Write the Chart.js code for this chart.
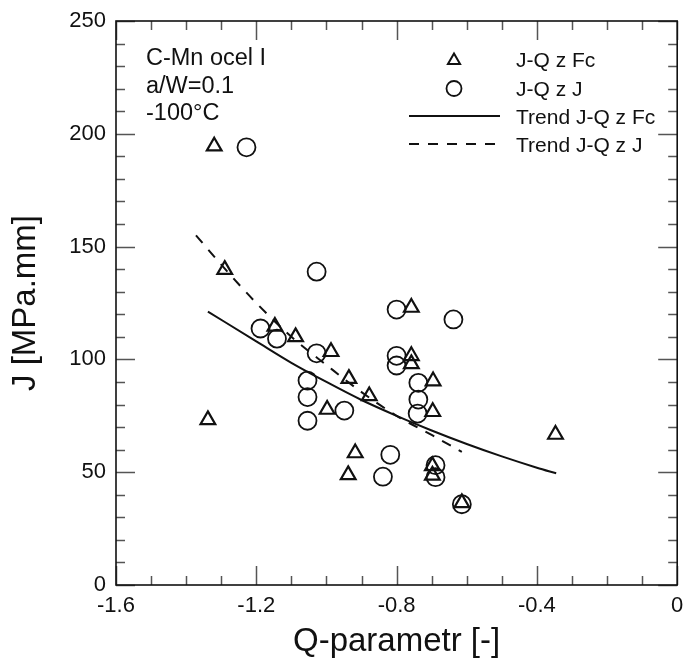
<!DOCTYPE html>
<html>
<head>
<meta charset="utf-8">
<script src="https://cdn.jsdelivr.net/npm/chart.js@4.4.1/dist/chart.umd.min.js"></script>
<style>
  html, body { margin: 0; padding: 0; background: #fff; }
</style>
</head>
<body>
<canvas id="jqChart" width="688" height="662"></canvas>
<script>
// J-Q z Fc (triangles)
const qFc = [-1.320, -1.290, -1.338, -1.147, -1.088, -0.987, -0.936, -0.878, -0.998, -0.918,
             -0.938, -0.758, -0.758, -0.758, -0.696, -0.697, -0.698, -0.698, -0.614, -0.347];
const jFc = [194.5, 139.8, 73.2, 114.6, 110.0, 103.4, 91.5, 83.8, 77.8, 58.5,
             48.8, 123.0, 101.6, 98.0, 90.4, 76.8, 52.8, 48.6, 36.4, 66.7];

// J-Q z J (circles)
const qJ = [-1.228, -1.028, -1.188, -1.141, -1.028, -1.054, -1.054, -1.054, -0.949, -0.800, -0.800,
            -0.800, -0.738, -0.738, -0.740, -0.638, -0.818, -0.839, -0.689, -0.689, -0.614];
const jJ = [194.0, 138.9, 113.7, 109.2, 102.7, 90.6, 83.3, 72.8, 77.3, 122.1, 101.6,
            97.3, 89.6, 82.2, 76.0, 117.7, 57.7, 48.0, 53.1, 47.8, 35.8];

// trend curves
const trendFcQ = [-1.338, -1.2, -1.1, -1.0, -0.9, -0.8, -0.7, -0.6, -0.5, -0.4, -0.345];
const trendFcJ = [121.2, 108.0, 98.5, 90.0, 82.0, 75.0, 68.5, 62.5, 57.0, 52.0, 49.5];
const trendJQ = [-1.372, -1.3, -1.2, -1.1, -1.0, -0.9, -0.8, -0.7, -0.614];
const trendJJ = [155.0, 142.0, 125.0, 110.0, 97.5, 85.5, 75.0, 66.5, 59.0];

const xTicks = [-1.6, -1.2, -0.8, -0.4, 0];
const yTicks = [0, 50, 100, 150, 200, 250];
const infoLines = ['C-Mn ocel I', 'a/W=0.1', '-100°C'];

Chart.defaults.font.family = '"Liberation Sans", Arial, sans-serif';
Chart.defaults.color = '#111';

function pairs(xs, ys) {
  return xs.map((x, i) => ({ x: x, y: ys[i] }));
}

function triangle(ctx, x, y, r) {
  ctx.beginPath();
  for (let k = 0; k < 3; k++) {
    const a = k * 2 * Math.PI / 3;
    const px = x + Math.sin(a) * r, py = y - Math.cos(a) * r;
    if (k === 0) ctx.moveTo(px, py); else ctx.lineTo(px, py);
  }
  ctx.closePath();
  ctx.stroke();
}

// frame, inward ticks on all four sides, info text and legend
const decor = {
  id: 'decor',
  afterDatasetsDraw(chart) {
    const ctx = chart.ctx;
    const a = chart.chartArea;
    const xs = chart.scales.x, ys = chart.scales.y;
    ctx.save();

    // minor + major ticks
    ctx.strokeStyle = '#555';
    ctx.lineWidth = 1.5;
    ctx.beginPath();
    for (let i = -16; i <= 0; i++) {
      const v = i / 10;
      const px = Math.round(xs.getPixelForValue(v)) + 0.5;
      const len = (i % 4 === 0) ? 19 : 9;
      ctx.moveTo(px, a.bottom); ctx.lineTo(px, a.bottom - len);
      ctx.moveTo(px, a.top); ctx.lineTo(px, a.top + len);
    }
    for (let v = 0; v <= 250; v += 10) {
      const py = Math.round(ys.getPixelForValue(v)) + 0.5;
      const len = (v % 50 === 0) ? 19 : 9;
      ctx.moveTo(a.left, py); ctx.lineTo(a.left + len, py);
      ctx.moveTo(a.right, py); ctx.lineTo(a.right - len, py);
    }
    ctx.stroke();

    // frame
    ctx.strokeStyle = '#111';
    ctx.lineWidth = 1.6;
    ctx.strokeRect(a.left, a.top, a.right - a.left, a.bottom - a.top);

    // info text
    ctx.fillStyle = '#111';
    ctx.font = '23.5px "Liberation Sans", Arial, sans-serif';
    ctx.textBaseline = 'alphabetic';
    ctx.textAlign = 'left';
    infoLines.forEach((t, i) => ctx.fillText(t, 146, 65 + i * 27.5));

    // legend
    const rows = [59.5, 88.5, 116, 144];
    const symX = 454, lineL = 409, lineR = 500, textX = 516;
    chart.data.datasets.forEach((ds, i) => {
      const y = rows[i];
      ctx.strokeStyle = '#111';
      ctx.setLineDash([]);
      if (ds.pointStyle === 'triangle') {
        ctx.lineWidth = 2;
        triangle(ctx, symX, y + 1, 7);
      } else if (ds.pointStyle === 'circle' && !ds.showLine) {
        ctx.lineWidth = 1.8;
        ctx.beginPath(); ctx.arc(symX, y, 7.5, 0, 2 * Math.PI); ctx.stroke();
      } else {
        ctx.lineWidth = 2;
        if (ds.borderDash) ctx.setLineDash(ds.borderDash);
        ctx.beginPath(); ctx.moveTo(lineL, y); ctx.lineTo(lineR, y); ctx.stroke();
      }
      ctx.setLineDash([]);
      ctx.font = '21px "Liberation Sans", Arial, sans-serif';
      ctx.fillText(ds.label, textX, y + 7.5);
    });
    ctx.restore();
  }
};

new Chart(document.getElementById('jqChart').getContext('2d'), {
  type: 'scatter',
  data: {
    datasets: [
      {
        label: 'J-Q z Fc',
        data: pairs(qFc, jFc),
        pointStyle: 'triangle',
        pointRadius: 8.5,
        pointBorderWidth: 2.2,
        borderColor: '#111',
        backgroundColor: 'rgba(0,0,0,0)'
      },
      {
        label: 'J-Q z J',
        data: pairs(qJ, jJ),
        pointStyle: 'circle',
        pointRadius: 9,
        pointBorderWidth: 1.8,
        borderColor: '#111',
        backgroundColor: 'rgba(0,0,0,0)'
      },
      {
        label: 'Trend J-Q z Fc',
        data: pairs(trendFcQ, trendFcJ),
        showLine: true,
        pointRadius: 0,
        borderWidth: 2,
        borderColor: '#111',
        cubicInterpolationMode: 'monotone'
      },
      {
        label: 'Trend J-Q z J',
        data: pairs(trendJQ, trendJJ),
        showLine: true,
        pointRadius: 0,
        borderWidth: 2,
        borderDash: [10, 9],
        borderColor: '#111',
        cubicInterpolationMode: 'monotone'
      }
    ]
  },
  options: {
    responsive: false,
    animation: false,
    layout: { padding: { top: 21, right: 6, bottom: 0, left: 0 } },
    plugins: { legend: { display: false }, tooltip: { enabled: false } },
    scales: {
      x: {
        type: 'linear',
        min: -1.6,
        max: 0,
        afterBuildTicks: s => { s.ticks = xTicks.map(v => ({ value: v })); },
        afterFit: s => { s.height = 77; s.paddingLeft = 0; s.paddingRight = 0; },
        ticks: {
          font: { size: 22 },
          color: '#111',
          padding: 8,
          callback: v => (v === 0 ? '0' : v.toFixed(1))
        },
        grid: { display: false, drawTicks: false },
        border: { display: false },
        title: {
          display: true,
          text: 'Q-parametr [-]',
          font: { size: 33 },
          color: '#111',
          padding: { top: 0, bottom: 0 }
        }
      },
      y: {
        type: 'linear',
        min: 0,
        max: 250,
        afterBuildTicks: s => { s.ticks = yTicks.map(v => ({ value: v })); },
        afterFit: s => { s.width = 116; s.paddingTop = 0; s.paddingBottom = 0; },
        ticks: { font: { size: 22 }, color: '#111', padding: 10 },
        grid: { display: false, drawTicks: false },
        border: { display: false },
        title: {
          display: true,
          text: 'J [MPa.mm]',
          font: { size: 33 },
          color: '#111',
          padding: { top: 6, bottom: 0 }
        }
      }
    }
  },
  plugins: [decor]
});
</script>
</body>
</html>
